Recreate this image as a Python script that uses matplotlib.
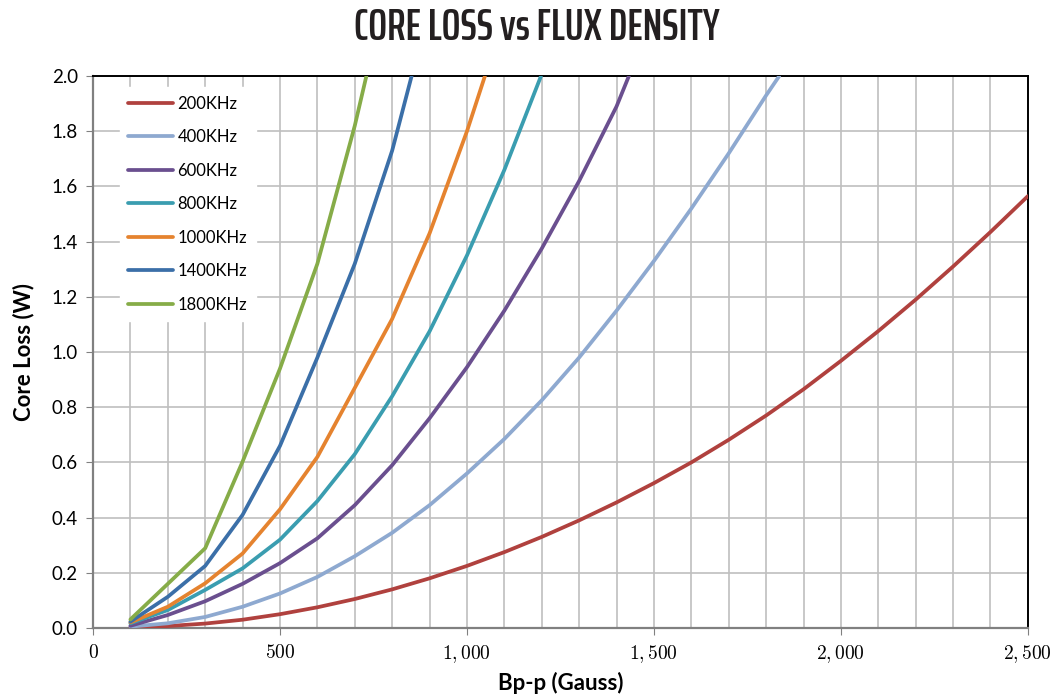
import matplotlib
matplotlib.use("Agg")
import matplotlib.pyplot as plt
import matplotlib.ticker as mticker
import numpy as np

# flux density (Gauss) and core loss (W)
b_200 = [100, 200, 300, 400, 500, 600, 700, 800, 900, 1000, 1100, 1200, 1300,
         1400, 1500, 1600, 1700, 1800, 1900, 2000, 2100, 2200, 2300, 2400, 2500]
loss_200 = [0.001, 0.007, 0.016, 0.03, 0.05, 0.075, 0.105, 0.14, 0.18, 0.225, 0.275,
            0.33, 0.39, 0.455, 0.525, 0.6, 0.682, 0.77, 0.865, 0.968, 1.076,
            1.19, 1.31, 1.435, 1.565]

b_400 = [100, 200, 300, 400, 500, 600, 700, 800, 900, 1000, 1100, 1200, 1300,
         1400, 1500, 1600, 1700, 1800, 1835]
loss_400 = [0.005, 0.017, 0.04, 0.077, 0.125, 0.185, 0.26, 0.345, 0.445, 0.56, 0.685,
            0.825, 0.98, 1.15, 1.33, 1.52, 1.72, 1.93, 2.0]

b_600 = [100, 200, 300, 400, 500, 600, 700, 800, 900, 1000, 1100, 1200, 1300, 1400, 1433]
loss_600 = [0.008, 0.047, 0.097, 0.16, 0.235, 0.325, 0.445, 0.59, 0.76, 0.945, 1.15,
            1.375, 1.62, 1.89, 2.0]

b_800 = [100, 200, 300, 400, 500, 600, 700, 800, 900, 1000, 1100, 1198]
loss_800 = [0.017, 0.065, 0.138, 0.216, 0.32, 0.46, 0.63, 0.84, 1.075, 1.35, 1.66, 2.0]

b_1000 = [100, 200, 300, 400, 500, 600, 700, 800, 900, 1000, 1048]
loss_1000 = [0.02, 0.077, 0.162, 0.27, 0.43, 0.62, 0.87, 1.12, 1.43, 1.8, 2.0]

b_1400 = [100, 200, 300, 400, 500, 600, 700, 800, 852]
loss_1400 = [0.023, 0.113, 0.225, 0.41, 0.66, 0.98, 1.32, 1.73, 2.0]

b_1800 = [100, 200, 300, 400, 500, 600, 700, 731]
loss_1800 = [0.031, 0.16, 0.289, 0.603, 0.94, 1.32, 1.82, 2.0]

series = [
    ("200KHz", b_200, loss_200, "#B0413E"),
    ("400KHz", b_400, loss_400, "#8EA9D0"),
    ("600KHz", b_600, loss_600, "#6A4F8F"),
    ("800KHz", b_800, loss_800, "#3A9DB0"),
    ("1000KHz", b_1000, loss_1000, "#E5832F"),
    ("1400KHz", b_1400, loss_1400, "#3B6FA8"),
    ("1800KHz", b_1800, loss_1800, "#86AC48"),
]

plt.rcParams['mathtext.fontset'] = 'cm'
sans = ['Lato', 'DejaVu Sans']

fig = plt.figure(figsize=(10.51, 6.98), dpi=100)
ax = fig.add_axes([0.0885, 0.1003, 0.8895, 0.7907])

for name, x, y, c in series:
    ax.plot(x, y, color=c, lw=2.7, label=name, solid_capstyle='round', zorder=3)

ax.set_xlim(0, 2500)
ax.set_ylim(0, 2.0)
ax.set_xticks(np.arange(0, 2501, 500))
ax.set_xticks(np.arange(0, 2501, 100), minor=True)
ax.set_yticks(np.arange(0, 2.01, 0.2))
ax.xaxis.set_major_formatter(mticker.FuncFormatter(
    lambda v, p: "$%s$" % format(int(v), ",")))
ax.yaxis.set_major_formatter(mticker.FormatStrFormatter("%.1f"))

ax.grid(axis='x', which='both', color='#BFBFBF', lw=1.2, zorder=0)
ax.grid(axis='y', which='major', color='#BFBFBF', lw=1.2, zorder=0)
ax.set_axisbelow(True)

ax.tick_params(which='minor', length=0)
ax.tick_params(axis='x', which='major', direction='out', length=5, color='#808080',
               labelsize=14, pad=6)
ax.tick_params(axis='y', which='major', direction='out', length=5, color='#808080',
               labelsize=13.5, pad=6)
for lab in ax.get_yticklabels():
    lab.set_family(sans)

for s in ['left', 'bottom']:
    ax.spines[s].set_color('#808080')
    ax.spines[s].set_linewidth(1.6)
for s in ['top', 'right']:
    ax.spines[s].set_color('black')
    ax.spines[s].set_linewidth(1.4)

ax.set_ylabel("Core Loss (W)", family=sans, fontweight='bold', fontsize=16, labelpad=12)
ax.set_xlabel("Bp-p (Gauss)", family=sans, fontweight='bold', fontsize=16, labelpad=5)

leg = ax.legend(loc='upper left', bbox_to_anchor=(0.02, 0.995), frameon=True,
                fancybox=False, framealpha=1, edgecolor='white', facecolor='white',
                prop={'family': sans, 'size': 12}, handlelength=2.7,
                handletextpad=0.25, labelspacing=1.05, borderpad=0.5)
leg.set_zorder(4)

fig.text(0.511, 0.96, "CORE LOSS vs FLUX DENSITY", ha='center', va='center',
         family=['Saira ExtraCondensed', 'Fira Sans Extra Condensed', 'DejaVu Sans'],
         fontweight=600, fontsize=32, color='#231F20')

fig.savefig("out.png", dpi=100)
